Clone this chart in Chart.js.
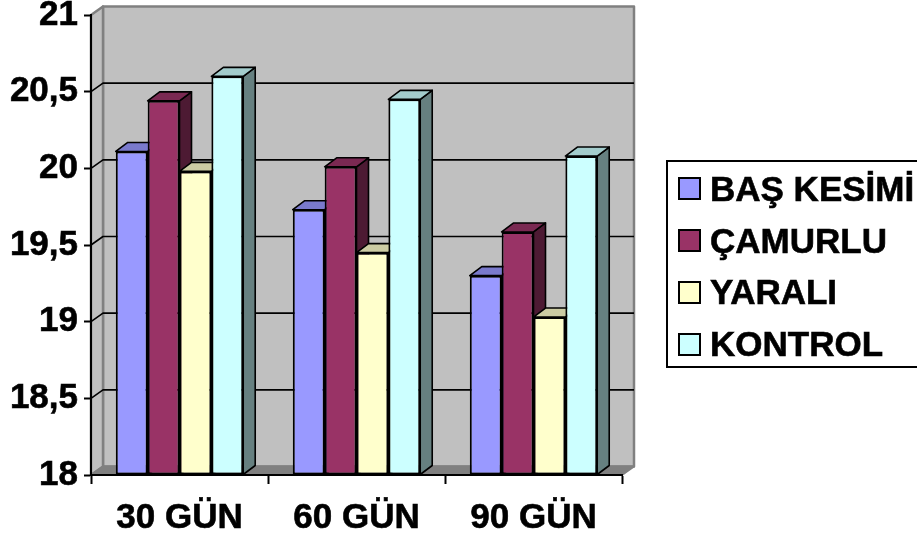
<!DOCTYPE html>
<html>
<head>
<meta charset="utf-8">
<script src="https://cdn.jsdelivr.net/npm/chart.js@4"></script>
<style>
    html, body { margin: 0; padding: 0; background: #fff; overflow: hidden; }
    #wrap { position: relative; width: 917px; height: 539px; overflow: hidden; }
    #legend {
        position: absolute; left: 666px; top: 160px; width: 260px; height: 203px;
        border: 2px solid #000; padding-top: 1px; box-sizing: content-box;
        font: bold 35px "Liberation Sans", Arial, sans-serif; color: #000;
        -webkit-text-stroke: 0.6px #000;
    }
    #legend div.row { display: flex; align-items: center; height: 51.8px; margin-left: 10px; }
    #legend span.box { width: 19px; height: 19px; border: 2px solid #000; margin-right: 9px; flex: none; }
    #legend span.txt { white-space: nowrap; }
</style>
</head>
<body>
<div id="wrap">
    <canvas id="myChart" width="917" height="539"></canvas>
    <div id="legend"></div>
</div>
<script>
const categories = ['30 GÜN', '60 GÜN', '90 GÜN'];
const seriesNames = ['BAŞ KESİMİ', 'ÇAMURLU', 'YARALI', 'KONTROL'];
const basKesimi = [20.11, 19.73, 19.30];
const camurlu = [20.44, 20.01, 19.585];
const yarali = [19.98, 19.45, 19.03];
const kontrol = [20.60, 20.45, 20.08];
const seriesColors = ['#9999ff', '#993366', '#ffffcc', '#ccffff'];
const yTickLabels = { 18: '18', 18.5: '18,5', 19: '19', 19.5: '19,5', 20: '20', 20.5: '20,5', 21: '21' };

const FONT = '"Liberation Sans", Arial, sans-serif';
const WALL_DX = 12, WALL_DY = 8.5;
const BAR_DX = 12, BAR_DY = 9;

const shade = (hex, k) => {
    const n = parseInt(hex.slice(1), 16);
    return `rgb(${((n >> 16) & 255) * k}, ${((n >> 8) & 255) * k}, ${(n & 255) * k})`;
};

const poly = (ctx, pts, fill, stroke, width) => {
    ctx.beginPath();
    pts.forEach((p, i) => (i ? ctx.lineTo(p[0], p[1]) : ctx.moveTo(p[0], p[1])));
    ctx.closePath();
    if (fill) { ctx.fillStyle = fill; ctx.fill(); }
    if (stroke) { ctx.strokeStyle = stroke; ctx.lineWidth = width; ctx.lineJoin = 'round'; ctx.stroke(); }
};

// back wall, side wall, floor and gridlines
const wallPlugin = {
    id: 'walls',
    beforeDraw(chart) {
        const { ctx, chartArea: a, scales: { y } } = chart;
        const bl = a.left + WALL_DX, br = a.right + WALL_DX;
        const bt = a.top - WALL_DY, bb = a.bottom - WALL_DY;
        ctx.save();
        poly(ctx, [[bl, bt], [br, bt], [br, bb], [bl, bb]], '#c0c0c0', '#808080', 2.5);
        poly(ctx, [[a.left, a.top], [bl, bt], [bl, bb], [a.left, a.bottom]], '#c0c0c0', '#808080', 2.5);
        poly(ctx, [[a.left, a.bottom], [bl, bb], [br, bb], [a.right, a.bottom]], '#808080', '#808080', 2);
        ctx.strokeStyle = '#000';
        ctx.lineWidth = 1.6;
        y.ticks.forEach(t => {
            if (t.value === y.min || t.value === y.max) return;
            const py = y.getPixelForValue(t.value);
            ctx.beginPath();
            ctx.moveTo(a.left, py);
            ctx.lineTo(bl, py - WALL_DY);
            ctx.lineTo(br, py - WALL_DY);
            ctx.stroke();
        });
        ctx.restore();
    },
};

// draws the bars left to right so the side faces stack up like the original
const bar3dPlugin = {
    id: 'bar3d',
    beforeDatasetDraw: () => false,
    afterDatasetsDraw(chart) {
        const { ctx } = chart;
        chart.data.datasets.forEach((ds, i) => {
            chart.getDatasetMeta(i).data.forEach(bar => {
                const { x, y, base, width } = bar.getProps(['x', 'y', 'base', 'width'], true);
                const l = x - width / 2, r = x + width / 2;
                ctx.save();
                poly(ctx, [[r, y], [r + BAR_DX, y - BAR_DY], [r + BAR_DX, base - BAR_DY], [r, base]], shade(ds.backgroundColor, 0.5), '#000', 1.6);
                poly(ctx, [[l, y], [l + BAR_DX, y - BAR_DY], [r + BAR_DX, y - BAR_DY], [r, y]], shade(ds.backgroundColor, 0.8), '#000', 1.6);
                ctx.restore();
                bar.draw(ctx);
            });
        });
    },
};

const values = [basKesimi, camurlu, yarali, kontrol];

new Chart(document.getElementById('myChart').getContext('2d'), {
    type: 'bar',
    data: {
        labels: categories,
        datasets: seriesNames.map((name, i) => ({
            label: name,
            data: values[i],
            base: 18,
            backgroundColor: seriesColors[i],
            borderColor: '#000',
            borderWidth: 2,
            borderSkipped: false,
            barPercentage: 1,
            categoryPercentage: 0.72,
        })),
    },
    options: {
        responsive: false,
        animation: false,
        layout: { padding: { top: 15, right: 295, left: 0, bottom: 0 } },
        plugins: { legend: { display: false }, tooltip: { enabled: false } },
        scales: {
            x: {
                afterFit: s => { s.height = 64; s.paddingLeft = 0; s.paddingRight = 0; },
                border: { color: '#000', width: 2 },
                grid: { drawOnChartArea: false, tickColor: '#000', tickWidth: 2, tickLength: 9 },
                ticks: {
                    color: '#000',
                    padding: 13,
                    maxRotation: 0,
                    textStrokeColor: '#000',
                    textStrokeWidth: 0.6,
                    font: { family: FONT, size: 35, weight: 'bold' },
                },
            },
            y: {
                min: 18,
                max: 21,
                afterFit: s => { s.width = 91; s.paddingTop = 0; s.paddingBottom = 0; },
                border: { color: '#000', width: 2 },
                grid: { drawOnChartArea: false, tickColor: '#000', tickWidth: 2, tickLength: 7 },
                ticks: {
                    stepSize: 0.5,
                    color: '#000',
                    padding: 6,
                    textStrokeColor: '#000',
                    textStrokeWidth: 0.6,
                    font: { family: FONT, size: 35, weight: 'bold' },
                    callback: v => yTickLabels[v],
                },
            },
        },
    },
    plugins: [wallPlugin, bar3dPlugin],
});

document.getElementById('legend').innerHTML = seriesNames.map((name, i) =>
    `<div class="row"><span class="box" style="background:${seriesColors[i]}"></span><span class="txt">${name}</span></div>`
).join('');
</script>
</body>
</html>
